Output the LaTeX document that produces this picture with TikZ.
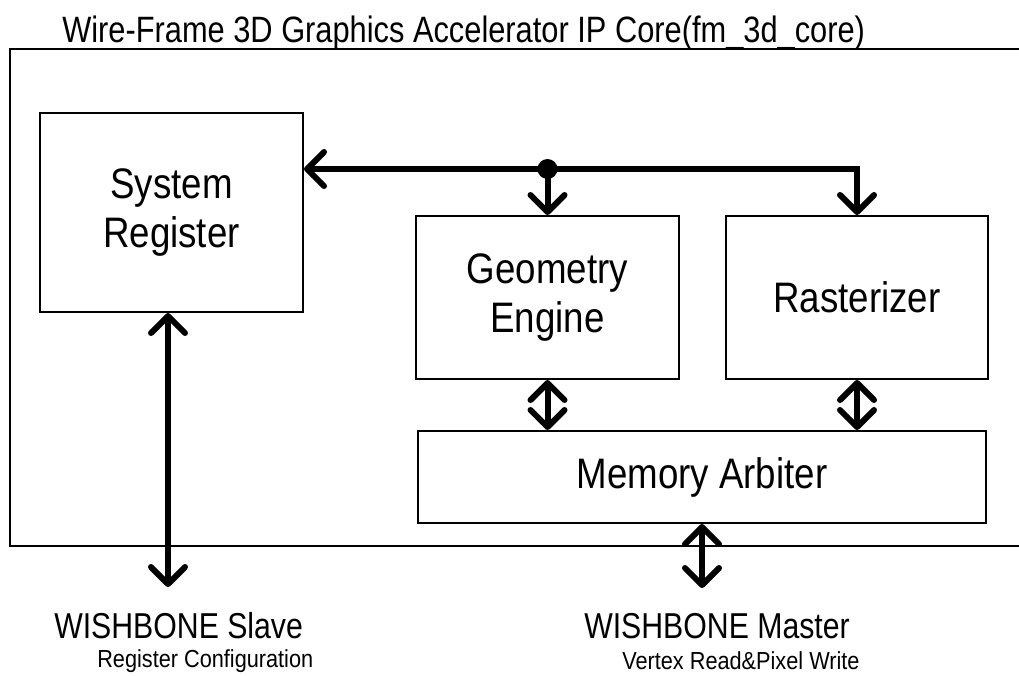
\documentclass[tikz,border=0pt]{standalone}
\usepackage{fontspec}
\setmainfont{Liberation Sans}[FakeStretch=0.86]
\newfontfamily\condfont{Liberation Sans}[FakeStretch=0.84]
\newfontfamily\subfont{Liberation Sans}[FakeStretch=0.88]
\usetikzlibrary{arrows.meta}
\begin{document}
\begin{tikzpicture}[x=0.75pt,y=-0.75pt,
  blk/.style={draw, line width=1.5pt, inner sep=0pt, align=center,
    font=\fontsize{32}{36.75}\selectfont},
  frame/.style={draw, line width=1.5pt},
  tiphead/.tip={Straight Barb[length=12.75pt, width=25.5pt, line cap=round, line join=round]},
  bus/.style={line width=4.5pt, line cap=round},
  lbl/.style={inner sep=0pt, anchor=west, font=\condfont\fontsize{27}{30}\selectfont},
  sub/.style={inner sep=0pt, anchor=west, font=\subfont\fontsize{18.5}{22}\selectfont}]
\useasboundingbox (0,0) rectangle (1019,675);
% outer frame
\draw[frame] (1030,49) -- (10,49) -- (10,546) -- (1030,546);
% blocks
\node[blk, minimum width=197.25pt, minimum height=149.25pt] (SR) at (171.5,212.5) {System\\Register};
\node[blk, minimum width=197.25pt, minimum height=122.25pt] (GE) at (547.5,297.5) {Geometry\\Engine};
\node[blk, minimum width=196.5pt, minimum height=122.25pt] (RA) at (857,297.5) {Rasterizer};
\node[blk, minimum width=426pt, minimum height=69pt] (MA) at (702,477) {Memory Arbiter};
% connectors
\coordinate (j) at (547.5,169);
\coordinate (ws) at (168,587);
\coordinate (wm) at (702,588);
\draw[bus, tiphead-tiphead] (SR.east |- j) -- (j -| RA.north) -- (RA.north);
\draw[bus, -tiphead] (j) -- (GE.north);
\fill (j) circle[radius=7.5pt];
\draw[bus, tiphead-tiphead] (GE.south) -- (GE.south |- MA.north);
\draw[bus, tiphead-tiphead] (RA.south) -- (RA.south |- MA.north);
\draw[bus, tiphead-tiphead] (SR.south -| ws) -- (ws);
\draw[bus, tiphead-tiphead] (MA.south) -- (wm);
% texts
\node[lbl] (title) at (62,33) {\fontsize{27.5}{30}\selectfont Wire-Frame 3D Graphics Accelerator IP Core(fm\_3d\_core)};
\node[lbl] (wsl) at (54,626) {WISHBONE Slave};
\node[sub] (wsls) at (97,661) {Register Configuration};
\node[lbl] (wma) at (584,626) {WISHBONE Master};
\node[sub] (wmas) at (622,661) {Vertex Read\&Pixel Write};
\end{tikzpicture}
\end{document}
